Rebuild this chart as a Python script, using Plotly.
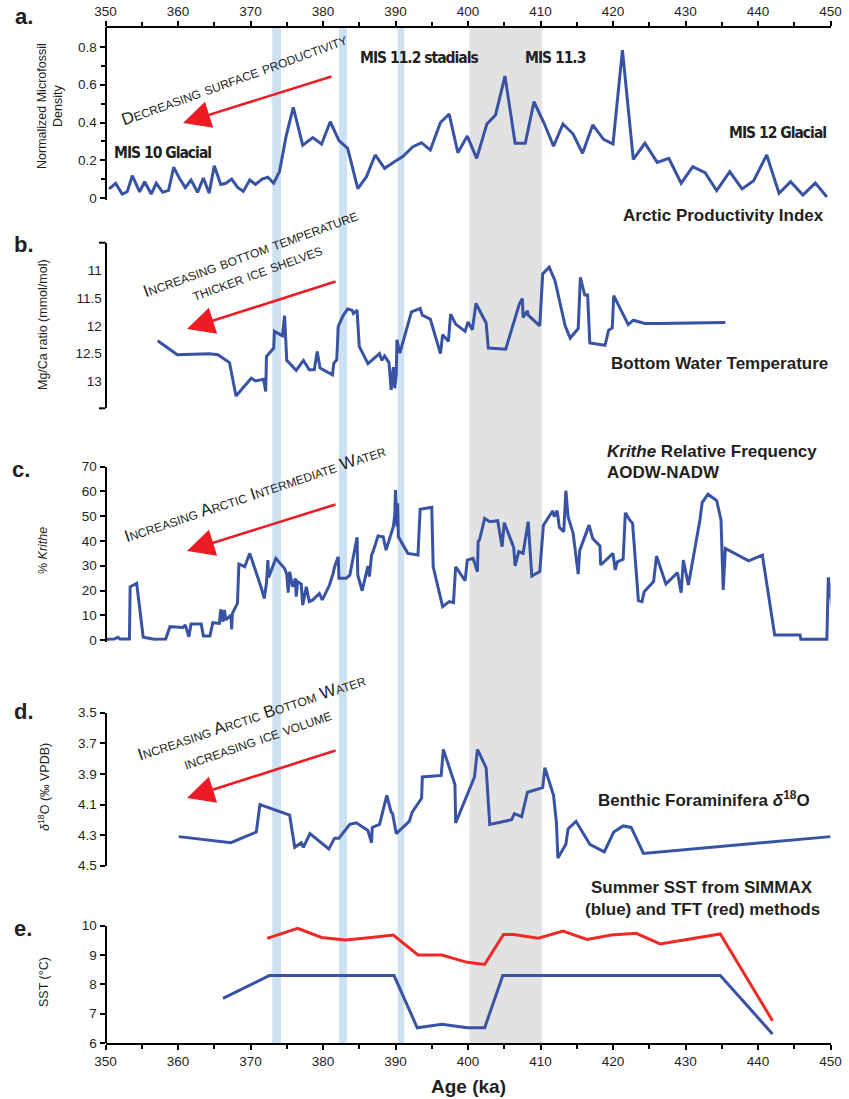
import plotly.graph_objects as go

W, H = 849, 1099

# ---------------- data ----------------
age_a = [350.5, 351.4, 352.3, 353.0, 353.7, 354.7, 355.4, 356.3, 357.0, 357.9, 358.7, 359.4, 360.2, 361.0,
         361.8, 362.7, 363.5, 364.3, 365.0, 365.9, 366.6, 367.4, 368.2, 369.0, 369.9, 370.7, 371.6, 372.4,
         373.2, 374.0, 374.9, 375.9, 377.2, 378.6, 379.8, 381.0, 382.2, 383.4, 384.8, 386.0, 387.2, 388.5,
         389.9, 391.0, 392.4, 393.6, 394.8, 396.2, 397.4, 398.6, 399.9, 401.2, 402.6, 403.8, 405.1, 406.5,
         407.9, 409.1, 410.5, 411.8, 413.1, 414.5, 415.8, 417.2, 418.7, 420.0, 421.3, 422.8, 424.4, 426.1,
         427.7, 429.4, 431.0, 432.7, 434.3, 436.1, 437.8, 439.4, 441.2, 442.9, 444.5, 446.2, 447.9, 449.5]
productivity = [0.048, 0.078, 0.021, 0.033, 0.118, 0.033, 0.086, 0.021, 0.078, 0.030, 0.040, 0.163, 0.104, 0.055,
                0.095, 0.030, 0.106, 0.025, 0.171, 0.072, 0.078, 0.100, 0.057, 0.035, 0.095, 0.072, 0.100, 0.110,
                0.078, 0.140, 0.325, 0.480, 0.280, 0.320, 0.285, 0.404, 0.304, 0.263, 0.050, 0.113, 0.228, 0.157,
                0.193, 0.220, 0.272, 0.293, 0.254, 0.400, 0.445, 0.240, 0.328, 0.210, 0.392, 0.440, 0.646, 0.290,
                0.290, 0.510, 0.396, 0.275, 0.392, 0.339, 0.237, 0.387, 0.311, 0.286, 0.784, 0.205, 0.290, 0.189,
                0.210, 0.078, 0.166, 0.134, 0.039, 0.140, 0.048, 0.092, 0.228, 0.025, 0.086, 0.016, 0.080, 0.005]

age_b = [357.2, 359.9, 364.3, 365.5, 367.1, 368.0, 370.1, 370.7, 371.8, 372.1, 372.2, 373.2, 373.3, 374.4,
         374.7, 375.0, 376.3, 377.3, 378.1, 378.8, 379.2, 379.6, 381.3, 381.5, 381.9, 382.1, 382.8, 383.4,
         384.0, 384.2, 384.7, 385.0, 386.2, 387.8, 388.1, 388.5, 389.1, 389.4, 389.7, 389.9, 390.1, 390.2,
         390.6, 392.2, 393.4, 393.7, 394.8, 396.2, 396.5, 397.3, 397.6, 398.3, 399.6, 400.0, 400.6, 401.1,
         402.5, 402.8, 405.2, 407.1, 407.5, 407.6, 408.2, 408.3, 409.9, 410.3, 411.2, 412.0, 413.4, 414.1,
         415.2, 415.5, 416.1, 416.5, 416.8, 418.9, 419.4, 419.9, 420.1, 422.1, 422.8, 424.4, 426.1, 435.5]
mgca = [12.27, 12.52, 12.50, 12.52, 12.66, 13.26, 12.94, 12.99, 12.96, 13.18, 12.55, 12.40, 12.10, 12.18,
        11.82, 12.62, 12.80, 12.62, 12.79, 12.79, 12.46, 12.76, 12.88, 12.67, 12.61, 12.01, 11.81, 11.70,
        11.72, 11.78, 11.72, 12.37, 12.68, 12.50, 12.62, 12.54, 12.66, 13.15, 12.74, 13.12, 12.88, 12.25,
        12.49, 11.75, 11.69, 11.81, 11.88, 12.50, 12.16, 12.28, 11.79, 11.97, 12.10, 11.93, 12.07, 11.60,
        11.95, 12.40, 12.42, 11.60, 11.51, 11.85, 11.73, 11.81, 12.00, 11.07, 10.95, 11.19, 12.00, 12.22,
        12.05, 11.13, 11.45, 11.45, 12.31, 12.35, 12.08, 12.04, 11.46, 11.98, 11.90, 11.96, 11.96, 11.94]

age_c = [350.0, 351.2, 351.7, 352.0, 353.3, 353.4, 354.3, 355.2, 356.0, 356.7, 358.3, 358.9, 360.7, 361.0,
         361.5, 361.8, 363.2, 363.5, 364.4, 364.8, 365.7, 365.9, 366.2, 366.4, 366.6, 367.3, 367.4, 367.5,
         368.2, 368.4, 369.2, 369.9, 371.5, 371.9, 372.2, 372.4, 372.5, 373.5, 374.7, 375.0, 375.2, 375.4,
         375.8, 376.2, 376.3, 376.5, 377.0, 377.2, 377.7, 378.1, 378.6, 379.5, 379.9, 380.9, 381.4, 381.6,
         382.1, 382.2, 383.2, 383.7, 384.7, 384.8, 385.4, 386.2, 386.4, 386.7, 386.9, 387.6, 388.3, 388.7,
         389.7, 389.9, 390.0, 390.2, 390.3, 390.4, 391.7, 393.1, 393.4, 395.0, 395.2, 396.5, 397.4, 398.0,
         398.1, 398.3, 399.6, 399.9, 400.7, 401.3, 401.4, 401.6, 402.3, 403.0, 404.1, 404.7, 405.0, 406.3,
         406.5, 407.0, 407.6, 408.3, 408.8, 409.9, 410.4, 411.7, 411.9, 412.3, 412.6, 413.2, 413.5, 413.8,
         414.5, 415.2, 415.4, 416.7, 417.2, 418.2, 418.3, 420.0, 420.3, 420.6, 421.4, 421.7, 422.3, 422.7,
         423.5, 424.0, 424.3, 425.6, 426.0, 427.3, 428.9, 429.4, 429.7, 430.4, 432.0, 432.3, 433.1, 434.3,
         434.9, 435.2, 435.5, 438.7, 440.6, 442.3, 445.8, 445.9, 449.5, 449.7, 450.5]
krithe = [0.3, 0.4, 1.1, 0.4, 0.4, 21.5, 22.9, 1.1, 0.7, 0.3, 0.4, 5.4, 5.1, 6.1,
          1.3, 6.5, 6.5, 1.6, 1.6, 7.0, 6.7, 12.4, 7.4, 12.1, 8.1, 10.1, 4.3, 10.8,
          14.8, 30.7, 29.6, 35.0, 20.9, 16.8, 22.9, 32.3, 25.3, 33.0, 28.9, 26.6, 19.1, 27.6,
          21.5, 24.9, 17.5, 23.6, 22.6, 14.1, 21.5, 15.5, 16.2, 18.8, 16.2, 22.2, 26.9, 29.6,
          33.6, 24.9, 24.9, 26.2, 41.5, 26.2, 19.9, 29.9, 25.6, 34.3, 35.7, 42.0, 41.7, 36.3,
          45.8, 50.5, 60.6, 45.8, 55.2, 41.7, 35.0, 34.3, 52.8, 53.6, 29.6, 13.5, 15.5, 15.1,
          20.2, 29.6, 24.0, 32.3, 33.0, 27.6, 39.7, 40.6, 49.1, 47.8, 48.2, 37.7, 47.4, 37.4,
          29.9, 35.7, 35.0, 47.8, 25.8, 27.6, 46.4, 52.2, 49.8, 52.2, 45.5, 43.7, 60.3, 49.8,
          43.1, 26.6, 36.1, 46.4, 41.0, 38.0, 30.3, 35.0, 28.3, 31.6, 32.6, 51.4, 48.5, 47.1,
          15.9, 15.5, 19.5, 23.6, 33.9, 22.6, 27.2, 19.1, 32.3, 22.2, 48.7, 55.5, 58.9, 56.3,
          48.5, 20.2, 37.0, 32.0, 34.3, 2.0, 2.0, 0.3, 0.3, 25.3, 8.1]

age_d = [360.1, 367.3, 370.8, 371.3, 375.4, 376.1, 377.0, 377.3, 378.2, 380.8, 381.6, 382.2, 383.7, 384.6,
         386.2, 386.7, 386.8, 387.8, 388.8, 389.4, 389.6, 390.1, 391.9, 392.3, 393.6, 393.7, 396.3, 396.6,
         398.2, 398.3, 400.9, 401.3, 402.5, 403.0, 406.0, 406.4, 407.4, 408.2, 410.3, 410.6, 411.8, 412.2,
         412.4, 413.5, 413.8, 414.9, 416.8, 418.8, 420.1, 421.4, 422.5, 424.2, 450.0]
d18o = [4.31, 4.35, 4.28, 4.10, 4.17, 4.38, 4.35, 4.38, 4.29, 4.39, 4.32, 4.32, 4.23, 4.22,
        4.27, 4.35, 4.25, 4.23, 4.04, 4.15, 4.16, 4.29, 4.21, 4.15, 4.06, 3.92, 3.91, 3.74,
        3.97, 4.22, 3.92, 3.74, 3.86, 4.23, 4.20, 4.16, 4.18, 4.02, 3.99, 3.86, 4.04, 4.22,
        4.45, 4.36, 4.26, 4.21, 4.36, 4.41, 4.28, 4.24, 4.25, 4.42, 4.31]

age_simmax = [366.2, 372.6, 376.5, 379.8, 383.1, 386.3, 389.8, 393.0, 396.4, 399.9, 402.3, 404.8, 409.7,
              413.1, 416.4, 419.8, 423.2, 426.5, 434.8, 442.0]
sst_simmax = [7.52, 8.3, 8.3, 8.3, 8.3, 8.3, 8.3, 6.52, 6.64, 6.52, 6.52, 8.3, 8.3,
              8.3, 8.3, 8.3, 8.3, 8.3, 8.3, 6.31]
age_tft = [372.3, 376.5, 379.8, 383.1, 386.3, 389.7, 393.1, 396.4, 399.9, 402.3, 404.9, 406.3, 409.7,
           413.1, 416.4, 419.8, 423.2, 426.5, 434.8, 442.0]
sst_tft = [9.57, 9.91, 9.60, 9.51, 9.59, 9.68, 9.00, 9.00, 8.75, 8.68, 9.70, 9.70, 9.57,
           9.82, 9.53, 9.68, 9.74, 9.38, 9.72, 6.76]

stadial_bands = [(373.0, 374.2), (382.2, 383.3), (390.3, 391.2)]
mis113_band = (400.2, 410.2)

# ---------------- styling ----------------
BLUE = "#3953a4"
RED = "#ee2a24"
TXT = "#231f20"
FONT = "Liberation Sans, Arial, sans-serif"
NARROW = "DejaVu Sans Condensed, Liberation Sans Narrow, sans-serif"

X0, X1 = 105.5, 830.5
def px(x):
    return x / W
def py(y):
    return 1 - y / H
def dom(top, bot):
    return [py(bot), py(top)]

fig = go.Figure()
line = dict(color=BLUE, width=3)
fig.add_trace(go.Scatter(x=age_a, y=productivity, mode="lines", line=line, xaxis="x2", yaxis="y"))
fig.add_trace(go.Scatter(x=age_b, y=mgca, mode="lines", line=line, xaxis="x", yaxis="y2"))
fig.add_trace(go.Scatter(x=age_c, y=krithe, mode="lines", line=line, xaxis="x", yaxis="y3"))
fig.add_trace(go.Scatter(x=age_d, y=d18o, mode="lines", line=line, xaxis="x", yaxis="y4"))
fig.add_trace(go.Scatter(x=age_simmax, y=sst_simmax, mode="lines", line=line, xaxis="x", yaxis="y5"))
fig.add_trace(go.Scatter(x=age_tft, y=sst_tft, mode="lines", line=dict(color=RED, width=3), xaxis="x", yaxis="y5"))

tickfont = dict(family=FONT, size=13.5, color=TXT)
common_y = dict(anchor="free", position=px(X0), showline=True, linecolor="black", linewidth=2,
                showgrid=False, zeroline=False, tickfont=tickfont, ticks="outside", ticklen=5,
                tickcolor="black", tickwidth=1.5, automargin=False)
common_x = dict(domain=[px(X0), px(X1)], range=[350, 450], showline=True, linecolor="black",
                linewidth=2, showgrid=False, zeroline=False, ticks="outside", ticklen=5, tickwidth=1.5,
                tickcolor="black", dtick=10, tickfont=tickfont, automargin=False,
                minor=dict(dtick=5, ticks="outside", ticklen=4, tickcolor="black", tickwidth=1.5))

fig.update_layout(
    width=W, height=H, margin=dict(l=0, r=0, t=0, b=0, autoexpand=False),
    paper_bgcolor="white", plot_bgcolor="rgba(0,0,0,0)", showlegend=False,
    xaxis=dict(anchor="y5", **common_x),
    xaxis2=dict(matches="x", overlaying="x", side="top", anchor="free", position=py(27), **common_x),
    yaxis=dict(domain=dom(27, 200), range=[-0.0106, 0.906], tickvals=[0, 0.2, 0.4, 0.6, 0.8],
               ticktext=["0", "0.2", "0.4", "0.6", "0.8"],
               minor=dict(tickvals=[0.1, 0.3, 0.5, 0.7], ticks="outside", ticklen=4, tickcolor="black"),
               **common_y),
    yaxis2=dict(domain=dom(242.7, 408.3), range=[13.48, 10.51], tickvals=[11, 11.5, 12, 12.5, 13],
                ticktext=["11", "11.5", "12", "12.5", "13"], **{**common_y, "ticks": ""}),
    yaxis3=dict(domain=dom(466.7, 642), range=[-0.8, 70], tickvals=[0, 10, 20, 30, 40, 50, 60, 70], **common_y),
    yaxis4=dict(domain=dom(712.7, 865.7), range=[4.5, 3.5], tickvals=[3.5, 3.7, 3.9, 4.1, 4.3, 4.5],
                ticktext=["3.5", "3.7", "3.9", "4.1", "4.3", "4.5"], **common_y),
    yaxis5=dict(domain=dom(925.7, 1043), range=[6, 10], tickvals=[6, 7, 8, 9, 10], **common_y),
)

# shaded intervals
shapes = []
for a0, a1 in stadial_bands:
    shapes.append(dict(type="rect", xref="x", yref="paper", x0=a0, x1=a1, y0=py(1043), y1=py(27),
                       fillcolor="#cde1f1", line=dict(width=0), layer="below"))
shapes.append(dict(type="rect", xref="x", yref="paper", x0=mis113_band[0], x1=mis113_band[1],
                   y0=py(1043), y1=py(27), fillcolor="#e2e2e2", line=dict(width=0), layer="below"))
# end caps on the Mg/Ca axis
for yy in (242.7, 408.3):
    shapes.append(dict(type="line", xref="paper", yref="paper", x0=px(99), x1=px(X0), y0=py(yy), y1=py(yy),
                       line=dict(color="black", width=2)))
fig.update_layout(shapes=shapes)

ann = []
def text(t, x, y, size=13, family=FONT, xanchor="center", yanchor="middle", angle=0, color=TXT, align="center"):
    ann.append(dict(text=t, x=px(x), y=py(y), xref="paper", yref="paper", showarrow=False,
                    font=dict(family=family, size=size, color=color), xanchor=xanchor, yanchor=yanchor,
                    textangle=angle, align=align))

def arrow(tail, tip):
    ann.append(dict(text="", x=px(tip[0]), y=py(tip[1]), xref="paper", yref="paper", showarrow=True,
                    ax=tail[0] - tip[0], ay=tail[1] - tip[1], arrowcolor="#ed1c24", arrowwidth=2.6,
                    arrowhead=2, arrowsize=2.1))

# panel letters
for lab, (x, y) in zip(["a.", "b.", "c.", "d.", "e."],
                       [(24, 17), (24, 245), (21, 469), (24, 711), (23, 928)]):
    text("<b>" + lab + "</b>", x, y, size=22)

# y-axis titles
text("Normalized Microfossil<br>Density", 50, 106, size=12.5, angle=-90)
text("Mg/Ca ratio (mmol/mol)", 43, 325, size=12.5, angle=-90)
text("% <i>Krithe</i>", 43, 551, size=12.5, angle=-90)
text("<i>δ</i><sup>18</sup>O (‰ VPDB)", 44, 787, size=12.5, angle=-90)
text("SST (°C)", 44, 982, size=12.5, angle=-90)
text("<b>Age (ka)</b>", 468, 1086, size=19)

# MIS labels (condensed bold)
def cond(s):
    return '<b><span style="letter-spacing:-1px">%s</span></b>' % s
text(cond("MIS 10 Glacial"), 112, 153, size=15.5, family=NARROW, xanchor="left")
text(cond("MIS 11.2 stadials"), 358, 58, size=15.5, family=NARROW, xanchor="left")
text(cond("MIS 11.3"), 523, 58, size=15.5, family=NARROW, xanchor="left")
text(cond("MIS 12 Glacial"), 727, 133, size=15.5, family=NARROW, xanchor="left")

# series titles
text("<b>Arctic Productivity Index</b>", 826, 215, size=17, xanchor="right")
text("<b>Bottom Water Temperature</b>", 830, 363, size=17, xanchor="right")
text("<b><i>Krithe</i> Relative Frequency</b>", 605, 451, size=17, xanchor="left")
text("<b>AODW-NADW</b>", 605, 473, size=17, xanchor="left")
text("<b>Benthic Foraminifera <i>δ</i><sup>18</sup>O</b>", 812, 799, size=17, xanchor="right")
text("<b>Summer SST from SIMMAX</b>", 702, 887, size=17)
text("<b>(blue) and TFT (red) methods</b>", 702, 909, size=17)

# small-caps arrow labels
def sc(s, small=12):
    out = []
    for w in s.split(" "):
        if w[0] == "^":
            out.append(w[1] + '<span style="font-size:%spx">%s</span>' % (small, w[2:]))
        else:
            out.append('<span style="font-size:%spx">%s</span>' % (small, w))
    return " ".join(out)

text(sc("^DECREASING SURFACE PRODUCTIVITY"), 234, 80, size=17, angle=-20)
arrow((333, 76), (183, 123))
text(sc("^INCREASING BOTTOM TEMPERATURE"), 250, 253, size=17, angle=-20)
text(sc("THICKER ICE SHELVES"), 257, 273, size=17, angle=-20)
arrow((337, 281), (187, 329))
text(sc("^INCREASING ^ARCTIC ^INTERMEDIATE ^WATER"), 255, 494, size=17, angle=-18.5)
arrow((337, 504), (187, 551))
text(sc("^INCREASING ^ARCTIC ^BOTTOM ^WATER"), 251, 717, size=17, angle=-18.5)
text(sc("INCREASING ICE VOLUME"), 257, 739, size=17, angle=-19)
arrow((337, 750), (187, 798))

fig.update_layout(annotations=ann)
fig.write_html("out.html")
